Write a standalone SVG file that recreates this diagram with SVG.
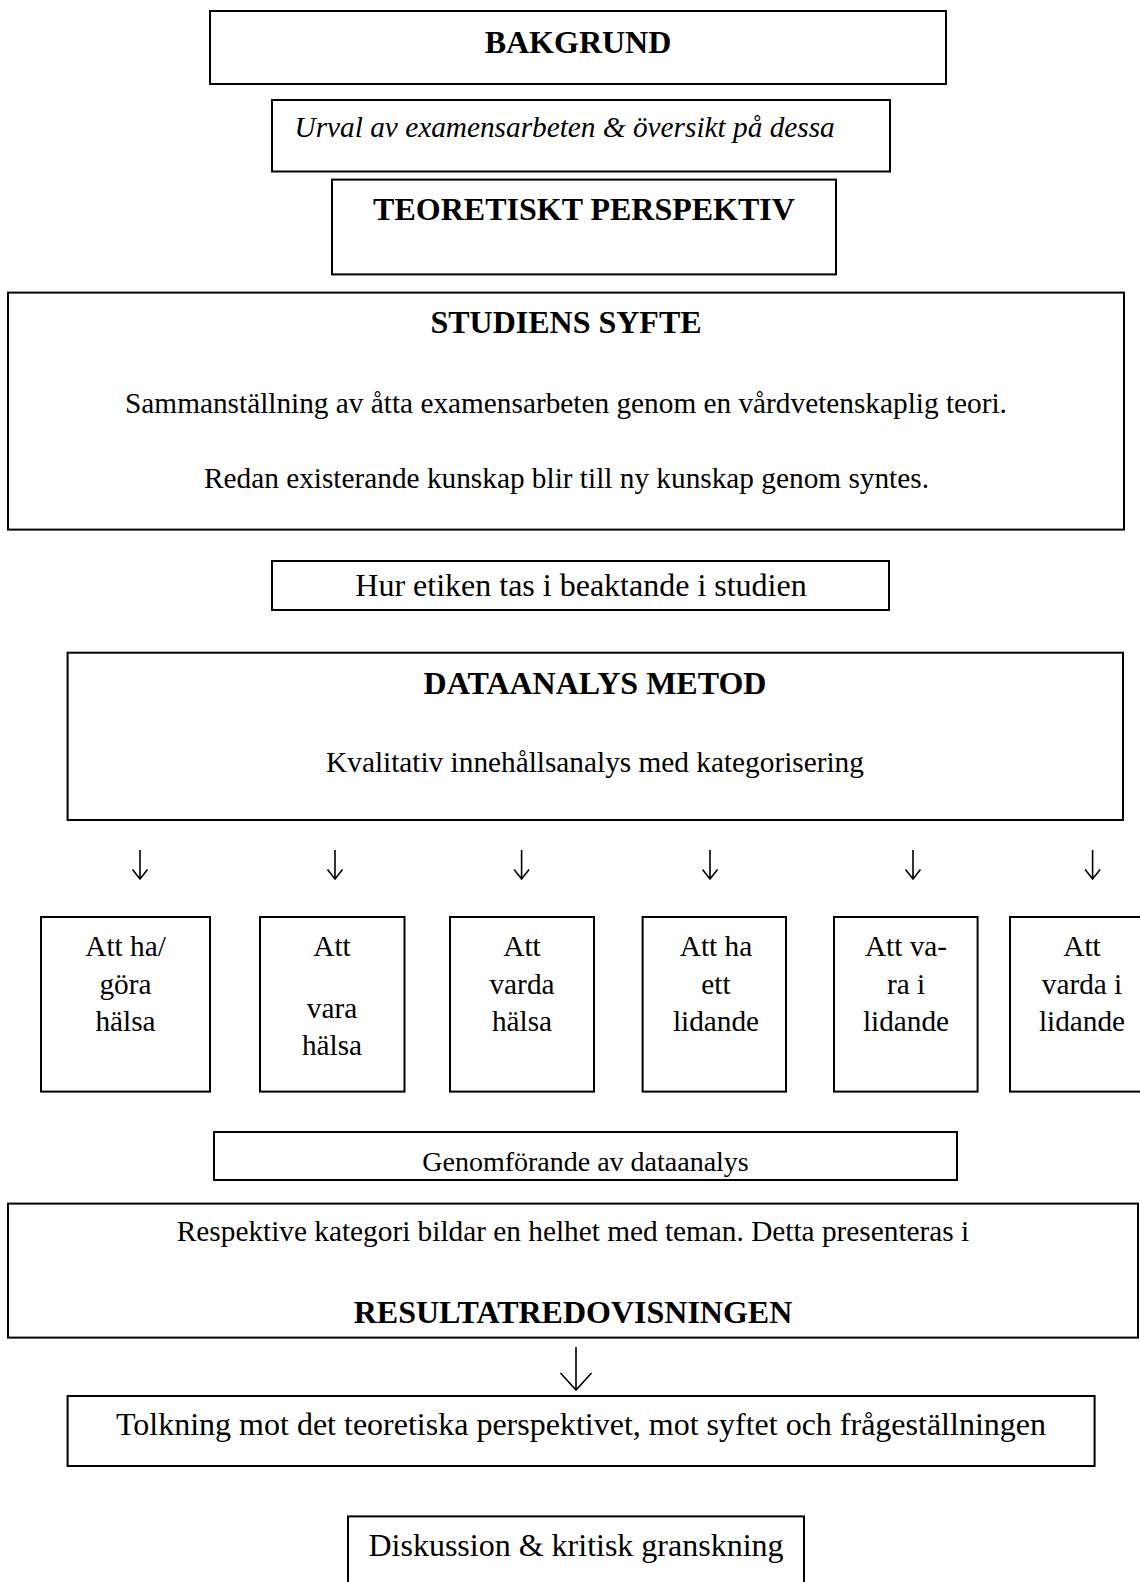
<svg xmlns="http://www.w3.org/2000/svg" width="1140" height="1582" viewBox="0 0 1140 1582">
<style>
  .box{fill:#fff;stroke:#000;stroke-width:2}
  text{font-family:"Liberation Serif","Times New Roman",serif;fill:#000}
  .b{font-weight:bold;font-size:32px}
  .r{font-size:29.3px}
  .l{font-size:32px}
  .c{text-anchor:middle}
  .arr{stroke:#000;stroke-width:1.6;fill:none}
</style>
<defs>
  <clipPath id="clipG"><rect x="215" y="1133" width="741" height="46"/></clipPath>
</defs>
<rect width="1140" height="1582" fill="#fff"/>

<g id="bakgrund"><rect class="box" x="210" y="11" width="736" height="73"/><text class="b c" x="578" y="52.5">BAKGRUND</text></g>
<g id="urval"><rect class="box" x="272" y="100" width="618" height="71.5"/><text class="r" x="294.5" y="137" font-style="italic">Urval av examensarbeten &amp; översikt på dessa</text></g>
<g id="teoretiskt"><rect class="box" x="332" y="179.6" width="504" height="94.8"/><text class="b c" x="584" y="220">TEORETISKT PERSPEKTIV</text></g>
<g id="syfte"><rect class="box" x="8" y="292.6" width="1116" height="237"/>
  <text class="b c" x="566" y="333">STUDIENS SYFTE</text>
  <text class="r c" x="566" y="412.6">Sammanställning av åtta examensarbeten genom en vårdvetenskaplig teori.</text>
  <text class="r c" x="566.5" y="488">Redan existerande kunskap blir till ny kunskap genom syntes.</text></g>
<g id="etik"><rect class="box" x="272" y="561" width="617" height="49"/><text class="l c" x="581" y="596">Hur etiken tas i beaktande i studien</text></g>
<g id="dataanalys"><rect class="box" x="67.6" y="652.7" width="1055.4" height="167.3"/>
  <text class="b c" x="595" y="694">DATAANALYS METOD</text>
  <text class="r c" x="595" y="772">Kvalitativ innehållsanalys med kategorisering</text></g>

<g id="kat1"><rect class="box" x="41" y="917" width="169" height="174.6"/><text class="r c" x="125.5" y="956">Att ha/</text><text class="r c" x="125.5" y="993.7">göra</text><text class="r c" x="125.5" y="1031">hälsa</text></g>
<g id="kat2"><rect class="box" x="260" y="917" width="144.5" height="174.6"/><text class="r c" x="332" y="956">Att</text><text class="r c" x="332" y="1018">vara</text><text class="r c" x="332" y="1055">hälsa</text></g>
<g id="kat3"><rect class="box" x="450" y="917" width="144" height="174.6"/><text class="r c" x="522" y="956">Att</text><text class="r c" x="522" y="993.7">varda</text><text class="r c" x="522" y="1031">hälsa</text></g>
<g id="kat4"><rect class="box" x="642.6" y="917" width="143.4" height="174.6"/><text class="r c" x="716" y="956">Att ha</text><text class="r c" x="716" y="993.7">ett</text><text class="r c" x="716" y="1031">lidande</text></g>
<g id="kat5"><rect class="box" x="834" y="917" width="143.6" height="174.6"/><text class="r c" x="906" y="956">Att va-</text><text class="r c" x="906" y="993.7">ra i</text><text class="r c" x="906" y="1031">lidande</text></g>
<g id="kat6"><rect class="box" x="1010" y="917" width="144" height="174.6"/><text class="r c" x="1082" y="956">Att</text><text class="r c" x="1082" y="993.7">varda i</text><text class="r c" x="1082" y="1031">lidande</text></g>

<g id="genomforande"><rect class="box" x="214" y="1132" width="743" height="48"/><text class="c" font-size="28" x="585.5" y="1171" clip-path="url(#clipG)">Genomförande av dataanalys</text></g>
<g id="resultat"><rect class="box" x="8" y="1203.6" width="1130" height="134"/>
  <text class="r c" x="573" y="1241">Respektive kategori bildar en helhet med teman. Detta presenteras i</text>
  <text class="b c" x="573" y="1322.6">RESULTATREDOVISNINGEN</text></g>
<g id="tolkning"><rect class="box" x="67.6" y="1396" width="1027" height="70"/><text class="l c" x="581" y="1434.6">Tolkning mot det teoretiska perspektivet, mot syftet och frågeställningen</text></g>
<g id="diskussion"><rect class="box" x="348" y="1516.4" width="456" height="80"/><text class="l c" x="576" y="1556">Diskussion &amp; kritisk granskning</text></g>

<g id="connectors">
  <path class="arr" d="M140 850V879M132.5 869.5L140 879L147.5 869.5"/>
  <path class="arr" d="M335 850V879M327.5 869.5L335 879L342.5 869.5"/>
  <path class="arr" d="M521.6 850V879M514.1 869.5L521.6 879L529.1 869.5"/>
  <path class="arr" d="M710 850V879M702.5 869.5L710 879L717.5 869.5"/>
  <path class="arr" d="M913 850V879M905.5 869.5L913 879L920.5 869.5"/>
  <path class="arr" d="M1092.6 850V879M1085.1 869.5L1092.6 879L1100.1 869.5"/>
  <path class="arr" stroke-width="2.2" d="M576 1347V1390M560.5 1373L576 1390L591.5 1373"/>
</g>
</svg>
